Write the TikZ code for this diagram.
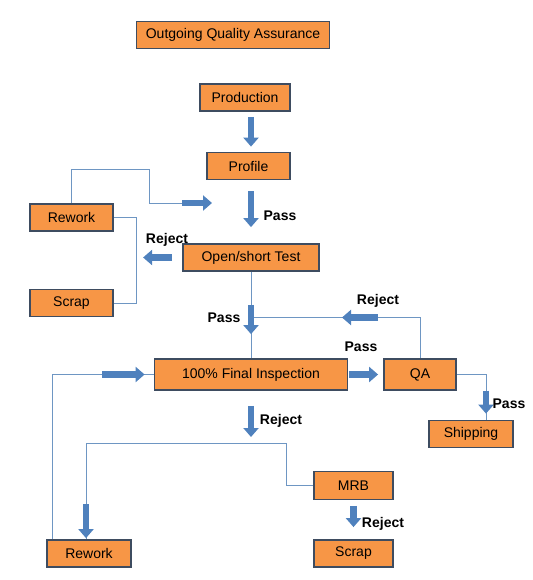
\documentclass[tikz,border=0pt]{standalone}
\usepackage{fontspec}
\setmainfont{Liberation Sans}
\usetikzlibrary{arrows.meta}
\definecolor{boxorange}{RGB}{247,150,70}
\definecolor{boxedge}{RGB}{62,76,96}
\definecolor{flowblue}{RGB}{79,129,189}
\definecolor{lineblue}{RGB}{110,150,195}
\begin{document}
\begin{tikzpicture}[x=1pt,y=-1pt,
    box/.style={draw=boxedge,fill=boxorange,line width=1.8pt,minimum height=27pt,inner sep=0pt,font=\fontsize{14}{16}\selectfont},
    fat/.style={flowblue,line width=6.5pt,-{Triangle[width=15pt,length=9pt]}},
    thin/.style={lineblue,line width=0.9pt},
    lab/.style={inner sep=0pt,font=\bfseries\fontsize{14}{16}\selectfont}]
    \useasboundingbox (0,0) rectangle (532,580);
    % boxes
    \node[box,minimum width=193pt] (title) at (233,35) {Outgoing Quality Assurance};
    \node[box,minimum width=90pt] (prod) at (245,97.5) {Production};
    \node[box,minimum width=83pt] (profile) at (248.5,166) {Profile};
    \node[box,minimum width=83pt] (rework1) at (71.5,217.5) {Rework};
    \node[box,minimum width=136pt] (open) at (251,257.5) {Open/short Test};
    \node[box,minimum width=83pt] (scrap1) at (71.5,303) {Scrap};
    \node[box,minimum width=193pt,minimum height=31pt] (final) at (251,374.5) {100\% Final Inspection};
    \node[box,minimum width=72pt,minimum height=31pt] (qa) at (420,374.5) {QA};
    \node[box,minimum width=84pt] (ship) at (471,434) {Shipping};
    \node[box,minimum width=79pt,minimum height=28pt] (mrb) at (353.5,485.5) {MRB};
    \node[box,minimum width=79pt] (scrap2) at (353.5,553.5) {Scrap};
    \node[box,minimum width=84pt] (rework2) at (89,553.5) {Rework};
    % points where lines meet
    \coordinate (bend) at (182,203);
    \coordinate (reentry) at (212,203);
    \coordinate (join) at (251,317.5);
    \coordinate (split) at (251,443);
    \coordinate (rwin) at ([xshift=-3pt]rework2.north);
    \coordinate (back) at ([xshift=-37pt]rework2.north);
    \coordinate (shipin) at ([xshift=15pt]ship.north);
    % thin lines
    \draw[thin] (rework1.north) |- (149,169) |- (bend);
    \draw[thin] (rework1.east) -- ++(23,0) |- (scrap1.east);
    \draw[thin] (open.south) -- (final.north);
    \draw[thin] (qa.north) |- (join);
    \draw[thin] (back) |- (final.west);
    \draw[thin] (qa.east) -| (shipin);
    \draw[thin] (mrb.west) -- ++(-26.5,0) |- (rwin |- split) -- (rwin);
    % block arrows
    \draw[fat,shorten <=5pt,shorten >=5pt] (prod.south -| open.north) -- (profile.north -| open.north);
    \draw[fat,shorten <=11pt,shorten >=16pt] (profile.south -| open.north) -- (open.north);
    \draw[fat] (bend) -- (reentry);
    \draw[fat,shorten <=10pt,shorten >=0pt] (open.west) -- ++(-39,0);
    \draw[fat,shorten <=33pt,shorten >=24pt] (open.south) -- (final.north);
    \draw[fat,shorten <=42pt,shorten >=91pt] (qa.north |- join) -- (join);
    \draw[fat,shorten <=1pt,shorten >=5pt] (final.east) -- (qa.west);
    \draw[fat,shorten <=50pt,shorten >=9pt] (back |- final.west) -- (final.west);
    \draw[fat,shorten <=16pt,shorten >=6pt] (qa.east -| shipin) -- (shipin);
    \draw[fat,shorten <=15pt,shorten >=6pt] (final.south) -- (split);
    \draw[fat,shorten <=61pt,shorten >=1pt] (rwin |- split) -- (rwin);
    \draw[fat,shorten <=5.5pt,shorten >=12pt] (mrb.south) -- (scrap2.north);
    % labels
    \node[lab] (pass1) at (280,216) {Pass};
    \node[lab] (reject1) at (167,240) {Reject};
    \node[lab] (pass2) at (224,318) {Pass};
    \node[lab] (reject2) at (378,301) {Reject};
    \node[lab] (pass3) at (361,347) {Pass};
    \node[lab] (pass4) at (509,404) {Pass};
    \node[lab] (reject3) at (281,421) {Reject};
    \node[lab] (reject4) at (383,524) {Reject};
\end{tikzpicture}
\end{document}
